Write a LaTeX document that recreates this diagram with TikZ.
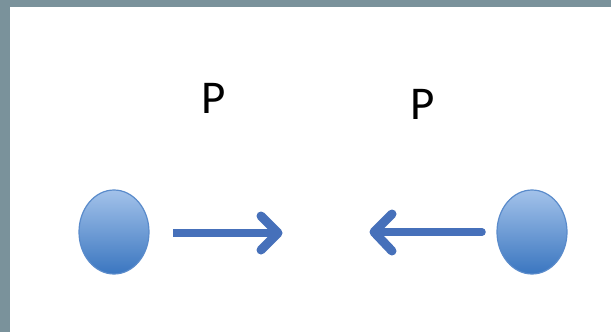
\documentclass[tikz,border=0pt]{standalone}
\usepackage{fontspec}
\setmainfont{Carlito}
\usetikzlibrary{shapes.geometric}
\definecolor{frame}{HTML}{7A929B}
\definecolor{arrowblue}{HTML}{4670BA}
\definecolor{ballTop}{HTML}{A3C2EA}
\definecolor{ballBot}{HTML}{3A76C0}
\definecolor{ballEdge}{HTML}{5A8BCB}
\begin{document}
\begin{tikzpicture}[x=1pt,y=-1pt,
  ball/.style={ellipse, minimum width=70pt, minimum height=84pt, inner sep=0pt,
    top color=ballTop, bottom color=ballBot, draw=ballEdge, line width=1.2pt},
  label/.style={inner sep=0pt, font=\fontsize{47}{50}\selectfont},
  shaft/.style={draw=arrowblue, line width=7.5pt},
  barb/.style={draw=arrowblue, line width=9pt, line join=round, line cap=round}]
  \useasboundingbox (0,0) rectangle (611,332);
  % grey frame along the top and left edges
  \fill[frame] (0,0) rectangle (611,332);
  \fill[white] (10,7) rectangle (611,332);

  % the two particles
  \node[ball] (lball) at (114,232) {};
  \node[ball] (rball) at (532,232) {};

  % momentum labels
  \node[label] (lp) at (214,98) {P};
  \node[label] (rp) at (423,104) {P};

  % arrow pointing right
  \coordinate (ra0) at (173,233);
  \coordinate (ra1) at (278,233);
  \draw[shaft] (ra0) -- (ra1);
  \draw[barb] (261,216) -- (ra1) -- (261,250);

  % arrow pointing left
  \coordinate (la0) at (482,232);
  \coordinate (la1) at (374,232);
  \draw[shaft, line cap=round] (la0) -- (la1);
  \draw[barb] (392,214) -- (la1) -- (392,251);
\end{tikzpicture}
\end{document}
